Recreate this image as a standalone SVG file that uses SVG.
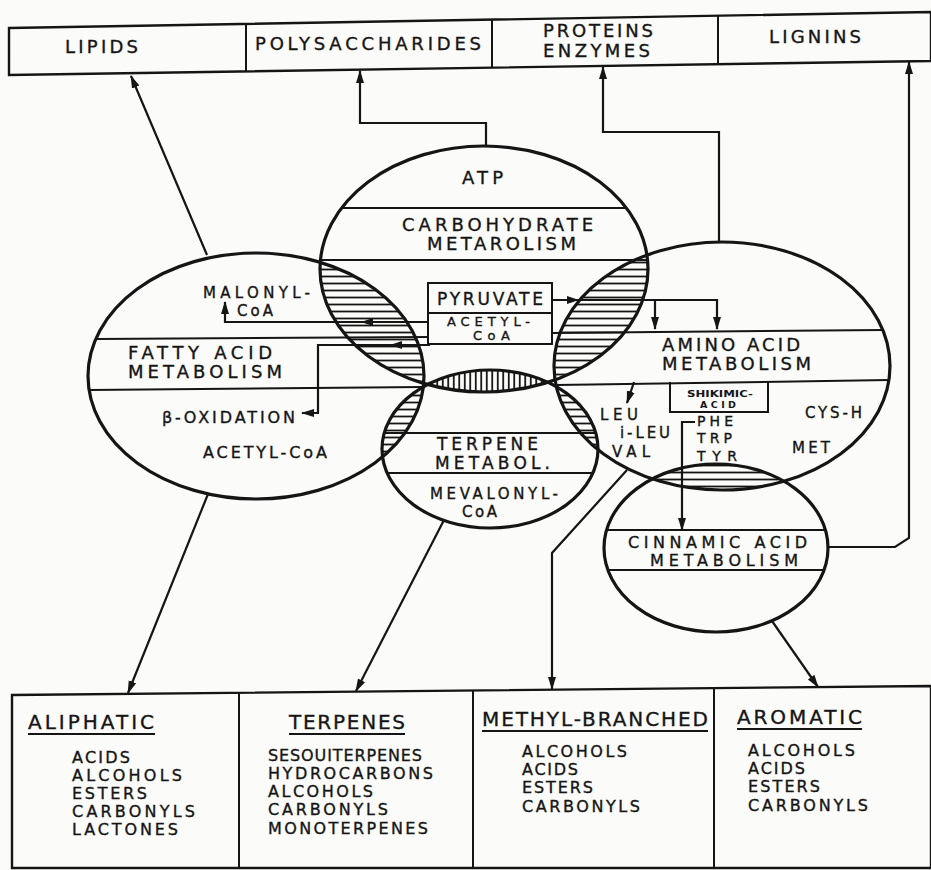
<svg xmlns="http://www.w3.org/2000/svg" width="931" height="870" viewBox="0 0 931 870">
<style>
text{font-family:"DejaVu Sans","Liberation Sans",Arial,sans-serif;fill:#151515;stroke:#151515;stroke-width:0.35}
.ell{fill:none;stroke:#151515;stroke-width:3.2}
.ln{stroke:#151515;stroke-width:2;fill:none}
.frame{fill:none;stroke:#151515;stroke-width:2.4}
.box{fill:#fbfbfa;stroke:#151515;stroke-width:2}
.con{stroke:#151515;stroke-width:2.2;fill:none}
.ah{fill:#151515}
.f10{font-size:9.5px;font-weight:bold;stroke:none}
.f13{font-size:13px}
.s14{font-size:14px}
.f14{font-size:15px}
.f15{font-size:16px}
.c16{font-size:16px}
.f16{font-size:17px}
.f17{font-size:18px}
.f19{font-size:20px}
</style>
<defs>
<pattern id="hh" width="10" height="7" patternUnits="userSpaceOnUse"><line x1="0" y1="3.5" x2="10" y2="3.5" stroke="#151515" stroke-width="1.8"/></pattern>
<pattern id="vh" width="5.5" height="10" patternUnits="userSpaceOnUse"><line x1="2.75" y1="0" x2="2.75" y2="10" stroke="#151515" stroke-width="1.8"/></pattern>
<clipPath id="cTop"><ellipse cx="484" cy="269" rx="164" ry="123"/></clipPath>
<clipPath id="cRight"><ellipse cx="722" cy="366" rx="168" ry="124"/></clipPath>
<clipPath id="cTerp"><ellipse cx="490" cy="449" rx="108" ry="79"/></clipPath>
<marker id="ah" markerWidth="13" markerHeight="10" refX="12" refY="5" orient="auto" markerUnits="userSpaceOnUse"><path d="M0,1 L13,5 L0,9 z" fill="#151515"/></marker>
</defs>
<rect width="931" height="870" fill="#fbfbfa"/>

<!-- hatched overlap regions -->
<g id="overlaps">
<ellipse cx="256" cy="376" rx="168" ry="123" fill="url(#hh)" clip-path="url(#cTop)"/>
<ellipse cx="722" cy="366" rx="168" ry="124" fill="url(#hh)" clip-path="url(#cTop)"/>
<ellipse cx="490" cy="449" rx="108" ry="79" fill="url(#vh)" clip-path="url(#cTop)"/>
<ellipse cx="256" cy="376" rx="168" ry="123" fill="url(#hh)" clip-path="url(#cTerp)"/>
<ellipse cx="722" cy="366" rx="168" ry="124" fill="url(#hh)" clip-path="url(#cTerp)"/>
<ellipse cx="716" cy="548" rx="112" ry="84" fill="url(#hh)" clip-path="url(#cRight)"/>
</g>

<!-- top row of products -->
<g id="top-row">
<polygon class="frame" points="9,28 931,12 931,61 9,75"/>
</g>
<g id="lipids">
<text class="f17" x="65" y="53" textLength="73" lengthAdjust="spacing">LIPIDS</text>
</g>
<g id="polysaccharides">
<line class="ln" x1="246" y1="24" x2="246" y2="71"/>
<text class="f17" x="255" y="50" textLength="226" lengthAdjust="spacing">POLYSACCHARIDES</text>
</g>
<g id="proteins-enzymes">
<line class="ln" x1="492" y1="20" x2="492" y2="67"/>
<text class="f17" x="543" y="37" textLength="110" lengthAdjust="spacing">PROTEINS</text>
<text class="f17" x="543" y="57" textLength="107" lengthAdjust="spacing">ENZYMES</text>
</g>
<g id="lignins">
<line class="ln" x1="718" y1="16" x2="718" y2="64"/>
<text class="f17" x="769" y="43" textLength="92" lengthAdjust="spacing">LIGNINS</text>
</g>

<!-- carbohydrate metabolism -->
<g id="carbohydrate">
<ellipse class="ell" cx="484" cy="269" rx="164" ry="123"/>
<line class="ln" x1="342" y1="208" x2="626" y2="208"/>
<line class="ln" x1="321" y1="260" x2="647" y2="260"/>
<text class="f17" x="462" y="184" textLength="41" lengthAdjust="spacing">ATP</text>
<text class="f17" x="402" y="231" textLength="191" lengthAdjust="spacing">CARBOHYDRATE</text>
<text class="f17" x="427" y="250" textLength="149" lengthAdjust="spacing">METAROLISM</text>
</g>

<!-- fatty acid metabolism -->
<g id="fatty-acid">
<ellipse class="ell" cx="256" cy="376" rx="168" ry="123"/>
<line class="ln" x1="96" y1="339" x2="430" y2="337"/>
<line class="ln" x1="89" y1="390" x2="423" y2="387"/>
<text class="f14" x="203" y="298" textLength="107" lengthAdjust="spacing">MALONYL-</text>
<text class="f14" x="237" y="316" textLength="36" lengthAdjust="spacing">CoA</text>
<text class="f17" x="128" y="359" textLength="144" lengthAdjust="spacing">FATTY ACID</text>
<text class="f17" x="128" y="378" textLength="154" lengthAdjust="spacing">METABOLISM</text>
<text class="f15" x="162" y="423" textLength="133" lengthAdjust="spacing">β-OXIDATION</text>
<text class="f15" x="203" y="458" textLength="124" lengthAdjust="spacing">ACETYL-CoA</text>
</g>

<!-- amino acid metabolism -->
<g id="amino-acid">
<ellipse class="ell" cx="722" cy="366" rx="168" ry="124"/>
<line class="ln" x1="552" y1="333" x2="883" y2="330"/>
<line class="ln" x1="557" y1="385" x2="889" y2="380"/>
<text class="f17" x="662" y="351" textLength="138" lengthAdjust="spacing">AMINO ACID</text>
<text class="f17" x="662" y="370" textLength="149" lengthAdjust="spacing">METABOLISM</text>
<text class="f14" x="600" y="420" textLength="38" lengthAdjust="spacing">LEU</text>
<text class="f14" x="620" y="438" textLength="50" lengthAdjust="spacing">i-LEU</text>
<text class="f14" x="612" y="457" textLength="38" lengthAdjust="spacing">VAL</text>
<text class="s14" x="697" y="426" textLength="36" lengthAdjust="spacing">PHE</text>
<text class="s14" x="697" y="443" textLength="35" lengthAdjust="spacing">TRP</text>
<text class="s14" x="697" y="461" textLength="40" lengthAdjust="spacing">TYR</text>
<text class="f14" x="805" y="418" textLength="57" lengthAdjust="spacing">CYS-H</text>
<text class="f14" x="792" y="453" textLength="38" lengthAdjust="spacing">MET</text>
</g>
<g id="shikimic-acid">
<path class="ln" d="M670,382 V412 H768 V381"/>
<text class="f10" x="687" y="397" textLength="66" lengthAdjust="spacingAndGlyphs">SHIKIMIC-</text>
<text class="f10" x="700" y="408" textLength="36" lengthAdjust="spacing">ACID</text>
</g>

<!-- terpene metabolism -->
<g id="terpene">
<ellipse class="ell" cx="490" cy="449" rx="108" ry="79"/>
<line class="ln" x1="384" y1="433" x2="596" y2="433"/>
<line class="ln" x1="387" y1="473" x2="593" y2="473"/>
<text class="f16" x="437" y="450" textLength="101" lengthAdjust="spacing">TERPENE</text>
<text class="f16" x="435" y="469" textLength="115" lengthAdjust="spacing">METABOL.</text>
<text class="f14" x="430" y="499" textLength="128" lengthAdjust="spacing">MEVALONYL-</text>
<text class="f14" x="462" y="517" textLength="35" lengthAdjust="spacing">CoA</text>
</g>

<!-- cinnamic acid metabolism -->
<g id="cinnamic-acid">
<ellipse class="ell" cx="716" cy="548" rx="112" ry="84"/>
<line class="ln" x1="607" y1="530" x2="825" y2="530"/>
<line class="ln" x1="608" y1="570" x2="824" y2="570"/>
<text class="c16" x="628" y="548" textLength="179" lengthAdjust="spacing">CINNAMIC ACID</text>
<text class="c16" x="650" y="566" textLength="148" lengthAdjust="spacing">METABOLISM</text>
</g>

<!-- pyruvate / acetyl-CoA box -->
<g id="pyruvate">
<rect class="box" x="428" y="283" width="124" height="61"/>
<line class="ln" x1="428" y1="313" x2="552" y2="313"/>
<text class="f16" x="437" y="305" textLength="106" lengthAdjust="spacing">PYRUVATE</text>
<text class="f13" x="447" y="326" textLength="83" lengthAdjust="spacing">ACETYL-</text>
<text class="f13" x="473" y="340" textLength="37" lengthAdjust="spacing">CoA</text>
</g>

<!-- bottom row of products -->
<g id="bottom-row">
<polygon class="frame" points="12,695 931,686 931,868 12,868"/>
</g>
<g id="aliphatic">
<text class="f19" x="28" y="729" textLength="126" lengthAdjust="spacing">ALIPHATIC</text>
<line class="ln" x1="28" y1="734" x2="155" y2="734"/>
<text class="f15" x="72" y="763" textLength="58" lengthAdjust="spacing">ACIDS</text>
<text class="f15" x="72" y="781" textLength="110" lengthAdjust="spacing">ALCOHOLS</text>
<text class="f15" x="72" y="799" textLength="75" lengthAdjust="spacing">ESTERS</text>
<text class="f15" x="72" y="817" textLength="123" lengthAdjust="spacing">CARBONYLS</text>
<text class="f15" x="72" y="835" textLength="106" lengthAdjust="spacing">LACTONES</text>
</g>
<g id="terpenes">
<line class="ln" x1="239" y1="693" x2="239" y2="868"/>
<text class="f19" x="289" y="729" textLength="116" lengthAdjust="spacing">TERPENES</text>
<line class="ln" x1="289" y1="734" x2="405" y2="734"/>
<text class="f15" x="268" y="761" textLength="154" lengthAdjust="spacing">SESOUITERPENES</text>
<text class="f15" x="268" y="779" textLength="165" lengthAdjust="spacing">HYDROCARBONS</text>
<text class="f15" x="268" y="797" textLength="105" lengthAdjust="spacing">ALCOHOLS</text>
<text class="f15" x="268" y="815" textLength="120" lengthAdjust="spacing">CARBONYLS</text>
<text class="f15" x="268" y="834" textLength="160" lengthAdjust="spacing">MONOTERPENES</text>
</g>
<g id="methyl-branched">
<line class="ln" x1="473" y1="691" x2="473" y2="868"/>
<text class="f19" x="482" y="726" textLength="226" lengthAdjust="spacing">METHYL-BRANCHED</text>
<line class="ln" x1="482" y1="731" x2="708" y2="731"/>
<text class="f15" x="522" y="757" textLength="105" lengthAdjust="spacing">ALCOHOLS</text>
<text class="f15" x="522" y="775" textLength="56" lengthAdjust="spacing">ACIDS</text>
<text class="f15" x="522" y="793" textLength="71" lengthAdjust="spacing">ESTERS</text>
<text class="f15" x="522" y="812" textLength="118" lengthAdjust="spacing">CARBONYLS</text>
</g>
<g id="aromatic">
<line class="ln" x1="714" y1="688" x2="714" y2="868"/>
<text class="f19" x="737" y="724" textLength="125" lengthAdjust="spacing">AROMATIC</text>
<line class="ln" x1="737" y1="729" x2="862" y2="729"/>
<text class="f15" x="748" y="756" textLength="107" lengthAdjust="spacing">ALCOHOLS</text>
<text class="f15" x="748" y="774" textLength="57" lengthAdjust="spacing">ACIDS</text>
<text class="f15" x="748" y="792" textLength="72" lengthAdjust="spacing">ESTERS</text>
<text class="f15" x="748" y="811" textLength="120" lengthAdjust="spacing">CARBONYLS</text>
</g>

<!-- connectors -->
<g id="connectors">
<path class="con" d="M207,255 L131,76" marker-end="url(#ah)"/>
<path class="con" d="M486,146 V123 H360 V71" marker-end="url(#ah)"/>
<path class="con" d="M719,242 V132 H603 V67" marker-end="url(#ah)"/>
<path class="con" d="M828,547 H895 L909,538 V62" marker-end="url(#ah)"/>
<path class="con" d="M428,322 H225 V302" marker-end="url(#ah)"/>
<polygon class="ah" points="361,322 373,318 373,326"/>
<path class="con" d="M430,345 H318 V413 H302" marker-end="url(#ah)"/>
<polygon class="ah" points="390,345 402,341 402,349"/>
<path class="con" d="M552,300 H717 V329" marker-end="url(#ah)"/>
<path class="con" d="M655,300 V329" marker-end="url(#ah)"/>
<polygon class="ah" points="579,300 567,296 567,304"/>
<path class="con" d="M634,382 L627,403" marker-end="url(#ah)"/>
<path class="con" d="M695,422 H682 V530" marker-end="url(#ah)"/>
<path class="con" d="M208,494 L128,693" marker-end="url(#ah)"/>
<path class="con" d="M444,520 L356,691" marker-end="url(#ah)"/>
<path class="con" d="M627,470 L552,553 V689" marker-end="url(#ah)"/>
<path class="con" d="M772,621 L818,687" marker-end="url(#ah)"/>
</g>
</svg>
